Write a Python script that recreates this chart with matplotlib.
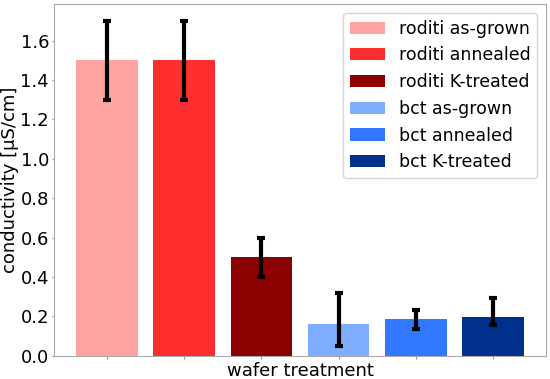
import matplotlib.pyplot as plt

labels = ["roditi as-grown", "roditi annealed", "roditi K-treated",
          "bct as-grown", "bct annealed", "bct K-treated"]
values = [1.5, 1.5, 0.5, 0.16, 0.185, 0.195]
err_low = [0.2, 0.2, 0.1, 0.11, 0.05, 0.04]
err_high = [0.2, 0.2, 0.1, 0.16, 0.05, 0.10]
colors = ["#ffa3a3", "#ff2e2e", "#8b0000", "#7fadff", "#2f78ff", "#00308c"]


def main():
    fig = plt.figure(figsize=(5.5, 3.79), dpi=100)
    ax = fig.add_axes([0.098, 0.061, 0.895, 0.928])

    for i, (lab, v) in enumerate(zip(labels, values)):
        ax.bar(i, v, width=0.8, color=colors[i], label=lab)
    ax.errorbar(range(len(values)), values, yerr=[err_low, err_high],
                fmt="none", ecolor="black", elinewidth=3, capsize=3, capthick=3)

    ax.set_xticks(range(len(values)))
    ax.set_xticklabels([])
    ax.set_xlabel("wafer treatment", fontsize=13, labelpad=1)
    ax.set_ylabel("conductivity [μS/cm]", fontsize=13, labelpad=1)
    ax.tick_params(axis="y", labelsize=13, length=1.5, pad=2)
    ax.tick_params(axis="x", length=2.5, pad=1)
    ax.tick_params(colors="#999999", labelcolor="black")
    for s in ax.spines.values():
        s.set_color("#aaaaaa")
    ax.legend(loc="upper right", fontsize=12.5)

    fig.savefig("out.png")


if __name__ == "__main__":
    main()
